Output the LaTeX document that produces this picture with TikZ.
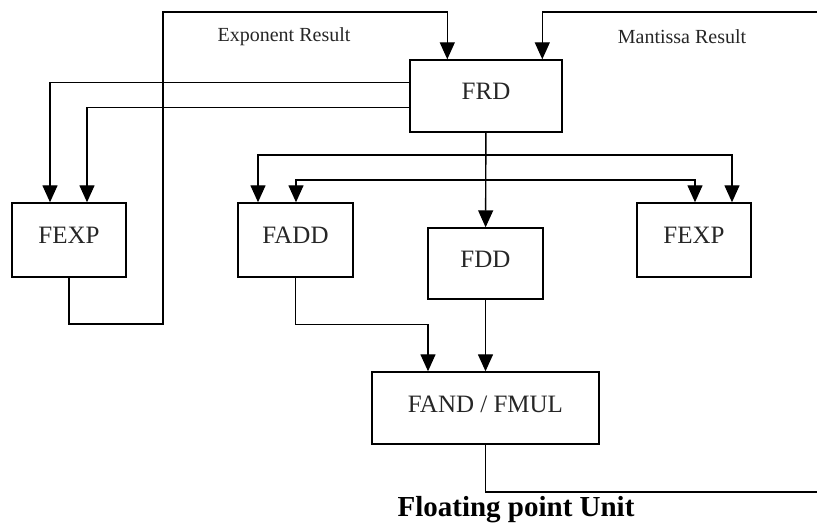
\documentclass[tikz,border=0pt]{standalone}
\usepackage{fontspec}
\setmainfont{Liberation Serif}
\usetikzlibrary{arrows.meta}
\begin{document}
\begin{tikzpicture}[x=1pt,y=-1pt,
  unit/.style={draw, line width=1.4pt, inner sep=0pt, text depth=9pt, font=\fontsize{25}{27}\selectfont, text=black!85},
  wire/.style={line width=1.4pt},
  arr/.style={wire, -{Triangle[width=15pt,length=17pt]}},
  lbl/.style={font=\fontsize{20}{22}\selectfont, text=black!85}]
\useasboundingbox (0,0) rectangle (817,526);
\node[unit, minimum width=152pt, minimum height=72pt] (frd) at (486,96) {FRD};
\node[unit, minimum width=114pt, minimum height=74pt] (fexpa) at (69,240) {FEXP};
\node[unit, minimum width=115pt, minimum height=74pt] (fadd) at (295.5,240) {FADD};
\node[unit, minimum width=115pt, minimum height=71pt] (fdd) at (485.5,263.5) {FDD};
\node[unit, minimum width=114pt, minimum height=74pt] (fexpb) at (694,240) {FEXP};
\node[unit, minimum width=227pt, minimum height=72pt, text depth=7pt] (fand) at (485.5,408) {FAND / FMUL};
\node[lbl] (explbl) at (284,37) {Exponent Result};
\node[lbl] (manlbl) at (682,37) {Mantissa Result};
\node[font=\bfseries\fontsize{29}{31}\selectfont] (title) at (516,510) {Floating point Unit};
\coordinate (expbot) at (163,324);
\coordinate (exptop) at (163,12);
\coordinate (mright) at (817,12);
\coordinate (oright) at (817,492);
\coordinate (j1) at (486,155);
\coordinate (j2) at (486,180);
% exponent feedback
\draw[arr] (fexpa.south) |- (expbot) -- (exptop) -| ([xshift=38pt]frd.north west);
% mantissa feedback
\draw[arr] (mright) -| ([xshift=133pt]frd.north west);
% FRD to left FEXP
\draw[arr] ([yshift=-23pt]frd.north west) -| ([xshift=-19pt]fexpa.north);
\draw[arr] ([yshift=-48pt]frd.north west) -| ([xshift=18pt]fexpa.north);
% FRD down
\draw[arr] (frd) -- (fdd);
\draw[arr] (j1) -| ([xshift=-37.5pt]fadd.north);
\draw[arr] (j1) -| ([xshift=38pt]fexpb.north);
\draw[arr] (j2) -| ([xshift=0.5pt]fadd.north);
\draw[arr] (j2) -| ([xshift=1pt]fexpb.north);
% to FAND/FMUL
\draw[arr] (fadd.south) -- ++(0,47) -| ([xshift=-57.5pt]fand.north);
\draw[arr] (fdd) -- (fand);
% output
\draw[wire] (fand.south) |- (oright);
\end{tikzpicture}
\end{document}
